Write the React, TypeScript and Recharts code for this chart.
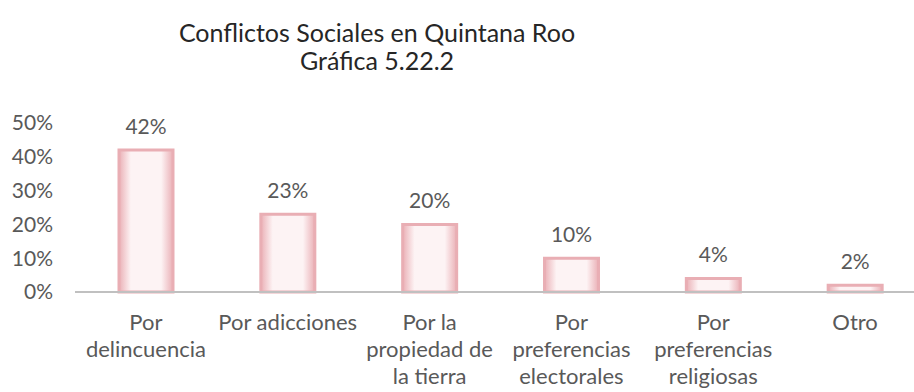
import { BarChart, Bar, XAxis, YAxis, LabelList } from 'recharts'

const categories = [
  'Por delincuencia',
  'Por adicciones',
  'Por la propiedad de la tierra',
  'Por preferencias electorales',
  'Por preferencias religiosas',
  'Otro',
]
const tickLines = [
  ['Por', 'delincuencia'],
  ['Por adicciones'],
  ['Por la', 'propiedad de', 'la tierra'],
  ['Por', 'preferencias', 'electorales'],
  ['Por', 'preferencias', 'religiosas'],
  ['Otro'],
]
const values = [0.42, 0.23, 0.2, 0.1, 0.04, 0.02]
const yTicks = [0, 0.1, 0.2, 0.3, 0.4, 0.5]

const data = categories.map((name, i) => ({ name, value: values[i] }))

const FONT = 'Lato, "Open Sans", sans-serif'
const TEXT = '#595959'
const pct = (v: number) => `${Math.round(v * 100)}%`

function CategoryTick({ x, y, payload }: any) {
  const idx = categories.indexOf(payload.value)
  const lines = tickLines[idx] ?? [payload.value]
  return (
    <text x={x} y={y} textAnchor="middle" fill={TEXT} fontSize={22} fontFamily={FONT}>
      {lines.map((l, i) => (
        <tspan key={i} x={x} dy={i === 0 ? 30 : 27}>
          {l}
        </tspan>
      ))}
    </text>
  )
}

export default function App() {
  return (
    <div style={{ position: 'absolute', left: 0, top: 0, width: 914, height: 392, overflow: 'hidden', background: '#fff' }}>
      <div
        style={{
          position: 'absolute',
          left: 0,
          top: 18,
          width: 754,
          textAlign: 'center',
          fontFamily: FONT,
          fontSize: 25,
          lineHeight: '28px',
          color: '#262626',
        }}
      >
        <div>Conflictos Sociales en Quintana Roo</div>
        <div>Gráfica 5.22.2</div>
      </div>
      <BarChart
        width={940}
        height={392}
        data={data}
        margin={{ top: 123, right: 14, left: 0, bottom: 0 }}
        barCategoryGap={0}
      >
        <defs>
          <linearGradient id="barFill" x1="0" y1="0" x2="1" y2="0">
            <stop offset="0%" stopColor="#eab0b6" />
            <stop offset="22%" stopColor="#fdf3f4" />
            <stop offset="78%" stopColor="#fdf3f4" />
            <stop offset="100%" stopColor="#eab0b6" />
          </linearGradient>
        </defs>
        <XAxis
          dataKey="name"
          interval={0}
          tickLine={false}
          axisLine={{ stroke: '#c0c0c0', strokeWidth: 2 }}
          tick={<CategoryTick />}
          height={100}
        />
        <YAxis
          width={75}
          domain={[0, 0.5]}
          ticks={yTicks}
          tickFormatter={pct}
          axisLine={false}
          tickLine={false}
          tickSize={0}
          tickMargin={22}
          tick={{ fill: TEXT, fontSize: 21, fontFamily: FONT }}
        />
        <Bar
          dataKey="value"
          barSize={54}
          fill="url(#barFill)"
          stroke="#e9aeb4"
          strokeWidth={3}
          isAnimationActive={false}
        >
          <LabelList
            dataKey="value"
            position="top"
            offset={16}
            formatter={(v: any) => pct(Number(v))}
            fill={TEXT}
            fontSize={21}
            fontFamily={FONT}
          />
        </Bar>
      </BarChart>
    </div>
  )
}
